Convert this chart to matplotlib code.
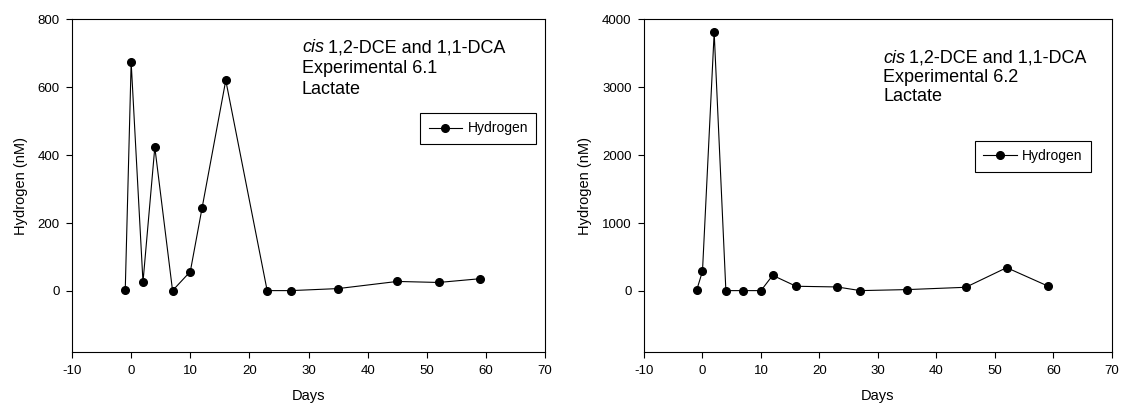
import matplotlib.pyplot as plt

plt.rcParams['font.family'] = ['Liberation Sans', 'DejaVu Sans']
plt.rcParams['axes.unicode_minus'] = False

# dados
dias = [-1, 0, 2, 4, 7, 10, 12, 16, 23, 27, 35, 45, 52, 59]
hidrogenio_61 = [3, 673, 26, 423, 1, 57, 245, 620, 1, 1, 7, 28, 25, 36]
hidrogenio_62 = [10, 289, 3805, 5, 5, 5, 230, 69, 59, 5, 20, 54, 343, 74]

x_ticks = [-10, 0, 10, 20, 30, 40, 50, 60, 70]
titulos = ['Experimental 6.1', 'Experimental 6.2']


def desenhar(ax, valores, ylim, yticks, titulo, pos_texto, pos_legenda, passo):
    ax.plot(dias, valores, color='black', linewidth=0.8, marker='o',
            markersize=5.5, markerfacecolor='black', label='Hydrogen')
    ax.set_xlim(-10, 70)
    ax.set_ylim(*ylim)
    ax.set_xticks(x_ticks)
    ax.set_yticks(yticks)
    ax.tick_params(direction='out', length=4, width=0.8, labelsize=9.5, pad=5)
    for s in ax.spines.values():
        s.set_linewidth(0.8)
    ax.set_xlabel('Days', fontsize=10.5, labelpad=9)
    ax.set_ylabel('Hydrogen (nM)', fontsize=10.5, labelpad=7)

    # texto com "cis" em itálico
    x0, y0 = pos_texto
    t = ax.text(x0, y0, 'cis', style='italic', fontsize=13,
                transform=ax.transAxes, va='baseline')
    ax.annotate('1,2-DCE and 1,1-DCA', xy=(1, 0), xycoords=t,
                xytext=(3, 0), textcoords='offset points',
                fontsize=13, va='bottom', ha='left')
    ax.text(x0, y0 - passo, titulo, fontsize=13,
            transform=ax.transAxes, va='baseline')
    ax.text(x0, y0 - 2 * passo, 'Lactate', fontsize=13,
            transform=ax.transAxes, va='baseline')

    leg = ax.legend(loc='upper left', bbox_to_anchor=pos_legenda,
                    borderaxespad=0, fancybox=False, fontsize=10,
                    handlelength=2.4, handletextpad=0.4, borderpad=0.6,
                    framealpha=1)
    leg.get_frame().set_edgecolor('black')
    leg.get_frame().set_linewidth(0.8)


fig = plt.figure(figsize=(11.29, 4.08), dpi=100)
ax1 = fig.add_axes([0.0638, 0.137, 0.419, 0.816])
ax2 = fig.add_axes([0.5704, 0.137, 0.4145, 0.816])

desenhar(ax1, hidrogenio_61, (-180, 800), [0, 200, 400, 600, 800],
         titulos[0], (0.486, 0.900), (0.736, 0.718), 0.063)
desenhar(ax2, hidrogenio_62, (-900, 4000), [0, 1000, 2000, 3000, 4000],
         titulos[1], (0.511, 0.869), (0.707, 0.634), 0.058)

fig.savefig('out.png', dpi=100)
